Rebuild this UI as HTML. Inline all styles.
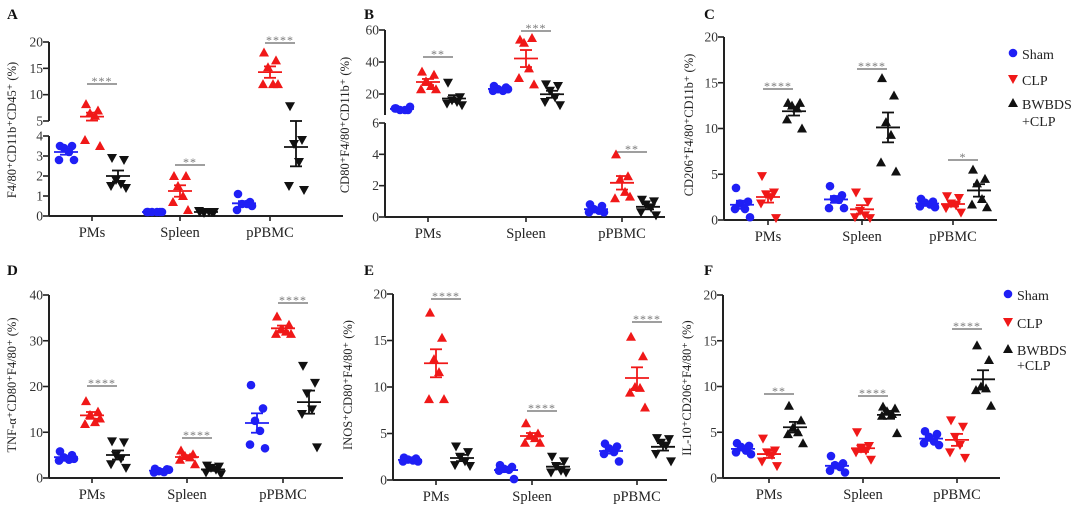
<!DOCTYPE html>
<html><head><meta charset="utf-8"><style>
html,body{margin:0;padding:0;background:#fff;}
svg{display:block;font-family:"Liberation Serif",serif;}
</style></head><body>
<svg id="fig" width="1080" height="512" viewBox="0 0 1080 512"></svg>
<script>
// ---- data (6 points per group: [PMs, Spleen, pPBMC]) ----
const categories=["PMs","Spleen","pPBMC"];
const aSham=[[3.5,3.5,3.4,3.2,2.8,2.8],[0.2,0.2,0.2,0.2,0.2,0.2],[1.1,0.7,0.6,0.6,0.3,0.5]];
const aCLP=[[8.2,7.0,6.5,6.0,3.8,3.5],[2.0,2.0,1.5,1.0,0.7,0.3],[18,16.5,15.2,12,12,12]];
const aBW=[[2.9,2.8,1.8,1.6,1.5,1.4],[0.2,0.2,0.15,0.2,0.25,0.2],[7.8,3.8,3.6,2.7,1.5,1.3]];
const bSham=[[11,10,10,10,11,12],[25,24,23,22,22,23],[0.8,0.7,0.5,0.4,0.3,0.3]];
const bCLP=[[34,32,28,25,23,23],[54,55,52,36,30,26],[4.0,2.6,2.4,1.6,1.2,1.3]];
const bBW=[[27,18,16,15,14,13],[26,25,22,18,15,13],[1.1,1.0,0.8,0.6,0.3,0.1]];
const cSham=[[3.5,2,1.8,1.2,1.2,0.3],[3.7,2.7,2.3,2.2,1.3,1.3],[2.3,2,1.9,1.7,1.5,1.4]];
const cCLP=[[4.8,3,2.8,2.5,1.8,0.2],[3,2,1,0.5,0.3,0.2],[2.6,2.4,1.8,1.6,1.3,0.8]];
const cBW=[[12.8,12.8,12.5,12.2,11,10],[15.5,13.6,10.7,9.3,6.3,5.3],[5.5,4.5,4,2.3,1.7,1.4]];
const dSham=[[5.8,5,4.5,4,3.8,4.2],[2,1.9,1.5,1.3,1.2,1.8],[20.3,15.2,12.5,10.3,7.3,6.5]];
const dCLP=[[16.8,14.5,13.8,12.2,11.8,13],[6,5.2,4.8,4.5,4,3],[35.3,33.5,32.5,32,31.5,31.5]];
const dBW=[[8,7.8,5,4.2,3,2.2],[2.7,2.5,2.2,1.8,1.2,0.8],[24.5,20.8,18.5,15,14,6.7]];
const eSham=[[2.4,2.3,2.2,2.1,2,2],[1.6,1.4,1.2,1.1,1,0.1],[3.9,3.6,3.4,3,2.8,2]];
const eCLP=[[18,15.3,13,11.6,8.7,8.7],[6.1,5,4.8,4.5,4,4],[15.4,13.3,10,9.9,9.4,7.8]];
const eBW=[[3.6,3.0,2.5,2.0,1.6,1.5],[2.5,2,1.5,1,0.8,0.8],[4.5,4.4,4,3.7,2.8,2]];
const fSham=[[3.8,3.5,3.4,3,2.8,2.6],[2.4,1.6,1.4,1.2,0.8,0.6],[5.1,4.8,4.5,4,3.8,3.6]];
const fCLP=[[4.3,3,2.8,2.5,1.8,1.3],[5,3.5,3.2,3,2.8,2],[6.3,5.6,4.5,3.6,2.8,2.2]];
const fBW=[[7.9,6.3,5.5,5,4.8,3.8],[7.8,7.6,7.3,7,6.8,4.9],[14.5,12.9,10,9.8,9.6,7.9]];
const aSig=["***","**","****"], bSig=["**","***","**"], cSig=["****","****","*"];
const dSig=["****","****","****"], eSig=["****","****","****"], fSig=["**","****","****"];
const ticksA=[[0,1,2,3,4],[5,10,15,20]], ticksB=[[0,2,4,6],[20,40,60]];
const ticks20=[0,5,10,15,20], ticks40=[0,10,20,30,40];
const legendLabels=["Sham","CLP","BWBDS","+CLP"];

const NS="http://www.w3.org/2000/svg";
const svg=document.getElementById('fig');
function mk(tag,attrs,parent){const e=document.createElementNS(NS,tag);for(const k in attrs)e.setAttribute(k,attrs[k]);(parent||svg).appendChild(e);return e;}
function txt(s,attrs,parent){const e=mk('text',attrs,parent);e.textContent=s;return e;}
const jit=[-6,6,-2,3,-7,8];
const BLUE="#1f1ff5",RED="#f01818",BLK="#111";

function marker(g,type,x,y,color){
  let e;
  if(type==='c'){e=mk('circle',{cx:x,cy:y,r:4.3,fill:color},g);}
  else if(type==='u'){e=mk('polygon',{points:`${x},${y-5} ${x-5},${y+4} ${x+5},${y+4}`,fill:color},g);}
  else {e=mk('polygon',{points:`${x},${y+5} ${x-5},${y-4} ${x+5},${y-4}`,fill:color},g);}
  return e;
}
function linear(v0,y0,v1,y1){return v=>y0+(v-v0)*(y1-y0)/(v1-v0);}

function panel(p){
  const g=mk('g',{});
  
  
  const lbl=txt(p.letter,{x:p.lx,y:p.ly,'font-size':15,'font-weight':'bold',fill:'#111'},g);
  
  
  const yt=txt(p.ytitle,{x:0,y:0,'font-size':12.5,fill:'#222','text-anchor':'middle',transform:`translate(${p.tx},${p.ty}) rotate(-90)`},g);
  
  
  const ax=mk('g',{},g);
  
  
  p.segs.forEach(s=>{
    mk('line',{x1:p.ax,x2:p.ax,y1:s.top,y2:s.bot,stroke:'#222','stroke-width':2},ax);
    s.ticks.forEach(t=>{const y=p.y(t);
      mk('line',{x1:p.ax-6,x2:p.ax,y1:y,y2:y,stroke:'#222','stroke-width':1.6},ax);
      const tl=txt(String(t),{x:p.ax-6,y:y+4.5,'font-size':13.5,fill:'#333','text-anchor':'end'},ax);
      
      
    });
  });
  const base=p.segs[0].bot;
  const xa=mk('line',{x1:p.ax,x2:p.xend,y1:base,y2:base,stroke:'#222','stroke-width':2},g);
  
  
  categories.forEach((c,i)=>{const x=p.cx[i];
    mk('line',{x1:x,x2:x,y1:base,y2:base+5,stroke:'#222','stroke-width':1.6},g);
    const cl=txt(c,{x:x,y:base+21,'font-size':14.5,fill:'#222','text-anchor':'middle'},g);
    
    
  });
  const series=[{d:p.sham,t:'c',c:BLUE,o:-26,n:'sham'},{d:p.clp,t:p.inv?'d':'u',c:RED,o:0,n:'clp'},{d:p.bw,t:p.inv?'u':'d',c:BLK,o:26,n:'bwbds-clp'}];
  series.forEach(s=>{
    s.d.forEach((arr,i)=>{
      const sg=mk('g',{},g);
      
      
      const cx=p.cx[i]+s.o;
      arr.forEach((v,j)=>{const m=marker(sg,s.t,cx+jit[j],p.y(v),s.c);
        
        });
      const n=arr.length,mean=arr.reduce((a,b)=>a+b,0)/n;
      const sd=Math.sqrt(arr.reduce((a,b)=>a+(b-mean)*(b-mean),0)/(n-1)),sem=sd/Math.sqrt(n);
      const ym=p.y(mean),yu=p.y(mean+sem),yl=p.y(Math.max(mean-sem,0));
      const eg=mk('g',{stroke:s.c,'stroke-width':1.8},sg);
      mk('line',{x1:cx-12,x2:cx+12,y1:ym,y2:ym},eg);
      mk('line',{x1:cx,x2:cx,y1:yu,y2:yl},eg);
      mk('line',{x1:cx-6,x2:cx+6,y1:yu,y2:yu},eg);
      mk('line',{x1:cx-6,x2:cx+6,y1:yl,y2:yl},eg);
    });
  });
  p.sig.forEach((s,i)=>{
    const bx1=p.cx[i]-5, bx2=p.cx[i]+25;
    const sgp=mk('g',{},g);
    
    
    mk('line',{x1:bx1,x2:bx2,y1:p.sy[i],y2:p.sy[i],stroke:'#666','stroke-width':1.3},sgp);
    txt(s,{x:(bx1+bx2)/2,y:p.sy[i]+1,'font-size':12,fill:'#777','text-anchor':'middle','letter-spacing':'1'},sgp);
  });
  if(p.legend){
    const lg=mk('g',{},g);
    
    
    const L=p.legend,types=['c',p.inv?'d':'u',p.inv?'u':'d'],cols=[BLUE,RED,BLK];
    [0,1,2].forEach(k=>{
      const ey=L.y[k];
      const e=mk('g',{},lg);
      
      
      marker(e,types[k],L.x,ey-6,cols[k]);
      txt(legendLabels[k],{x:L.x+9,y:ey,'font-size':14,fill:'#222'},e);
    });
    txt(legendLabels[3],{x:L.x+9,y:L.y[3],'font-size':14,fill:'#222'},lg);
  }
}

function yA(v){return v<=4?linear(0,216,4,136)(v):linear(5,121,20,42)(Math.max(v,5));}
function yB(v){return v<=6?linear(0,217,6,123)(v):linear(20,94,60,30)(Math.max(v,7));}

panel({name:'panel-a',letter:'A',lx:7,ly:19,ytitle:'F4/80⁺CD11b⁺CD45⁺ (%)',tx:16,ty:130,ax:49,xend:343,
  segs:[{top:136,bot:216,ticks:ticksA[0]},{top:42,bot:121,ticks:ticksA[1]}],y:yA,cx:[92,180,270],
  sham:aSham,clp:aCLP,bw:aBW,sig:aSig,sy:[84,165,43]});
panel({name:'panel-b',letter:'B',lx:364,ly:19,ytitle:'CD80⁺F4/80⁺CD11b⁺ (%)',tx:349,ty:125,ax:385,xend:665,
  segs:[{top:123,bot:217,ticks:ticksB[0]},{top:30,bot:115,ticks:ticksB[1]}],y:yB,cx:[428,526,622],
  sham:bSham,clp:bCLP,bw:bBW,sig:bSig,sy:[57,31,152]});
panel({name:'panel-c',letter:'C',lx:704,ly:19,ytitle:'CD206⁺F4/80⁺CD11b⁺ (%)',tx:693,ty:125,ax:724,xend:997,
  segs:[{top:37,bot:220,ticks:ticks20}],y:linear(0,220,20,37),cx:[768,862,953],inv:true,
  sham:cSham,clp:cCLP,bw:cBW,sig:cSig,sy:[89,69,160],legend:{x:1013,y:[59,85,109,126]}});
panel({name:'panel-d',letter:'D',lx:7,ly:275,ytitle:'TNF-α⁺CD80⁺F4/80⁺ (%)',tx:16,ty:385,ax:49,xend:343,
  segs:[{top:295,bot:478,ticks:ticks40}],y:linear(0,478,40,295),cx:[92,187,283],
  sham:dSham,clp:dCLP,bw:dBW,sig:dSig,sy:[386,438,303]});
panel({name:'panel-e',letter:'E',lx:364,ly:275,ytitle:'INOS⁺CD80⁺F4/80⁺ (%)',tx:352,ty:385,ax:393,xend:667,
  segs:[{top:294,bot:480,ticks:ticks20}],y:linear(0,480,20,294),cx:[436,532,637],
  sham:eSham,clp:eCLP,bw:eBW,sig:eSig,sy:[299,411,322]});
panel({name:'panel-f',letter:'F',lx:704,ly:275,ytitle:'IL-10⁺CD206⁺F4/80⁺ (%)',tx:691,ty:388,ax:723,xend:1000,
  segs:[{top:295,bot:478,ticks:ticks20}],y:linear(0,478,20,295),cx:[769,863,957],inv:true,
  sham:fSham,clp:fCLP,bw:fBW,sig:fSig,sy:[394,396,329],legend:{x:1008,y:[300,328,355,370]}});
</script>
</body></html>
